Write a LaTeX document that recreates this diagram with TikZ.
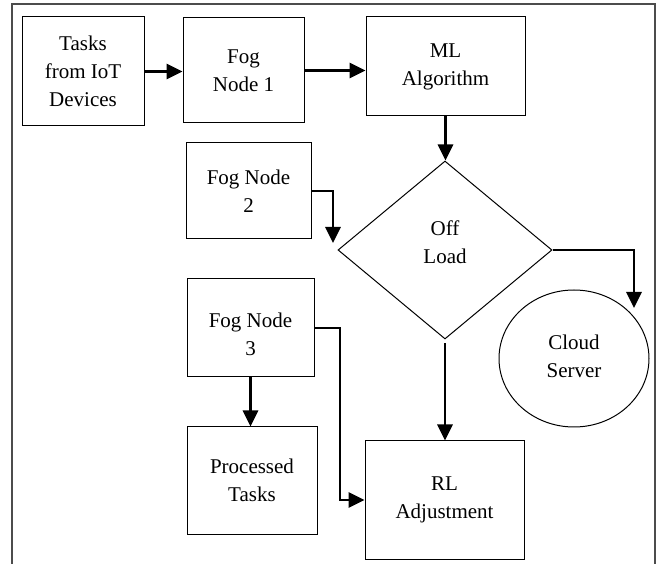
\documentclass[tikz,border=0pt]{standalone}
\usepackage{fontspec}
\setmainfont{Liberation Serif}
\usetikzlibrary{arrows.meta,shapes.geometric}
\begin{document}
\begin{tikzpicture}[x=1pt,y=-1pt,
  every node/.style={font=\fontsize{21}{28}\selectfont, align=center, inner sep=0pt},
  box/.style={draw, line width=1pt, rectangle},
  arr/.style={line width=2.8pt, -{Triangle[length=16pt,width=15pt]}},
  frame/.style={line width=1.6pt, draw=black!70}]
\useasboundingbox (0,0) rectangle (657,564);
\draw[frame] (12,566) -- (12,4) -- (655,4) -- (655,566);
% nodes
\node[box, minimum width=122pt, minimum height=109pt] (tasks) at (83,71.5) {Tasks\\from IoT\\Devices};
\node[box, minimum width=121pt, minimum height=105pt] (fog1) at (243.5,70.5) {Fog\\Node 1};
\node[box, minimum width=159pt, minimum height=99pt] (ml) at (445.5,66.5) {ML\\Algorithm};
\node[box, minimum width=125pt, minimum height=96pt] (fog2) at (248.5,191) {Fog Node\\2};
\node[box, minimum width=127pt, minimum height=98pt] (fog3) at (250.5,328) {};
\node (fog3text) at (250.5,334) {Fog Node\\3};
\node[box, minimum width=130pt, minimum height=107pt] (proc) at (252,480.5) {Processed\\Tasks};
\node[box, minimum width=159pt, minimum height=118pt] (rl) at (444.5,500) {RL\\Adjustment};
\node[draw, line width=1pt, diamond, minimum width=214pt, minimum height=178pt] (off) at (445,250) {};
\node (offtext) at (445,242) {Off\\Load};
\node[draw, line width=1pt, ellipse, minimum width=150pt, minimum height=137pt] (cloud) at (574,358.5) {};
\node (cloudtext) at (574,356.5) {Cloud\\Server};
% helper coordinates
\coordinate (c2) at (333,243);
\coordinate (k3) at (340,500);
\coordinate (cs) at (634,308);
% connectors
\draw[arr] (tasks.east) -- (tasks.east -| fog1.west);
\draw[arr] (fog1.east) -- (fog1.east -| ml.west);
\draw[arr] (ml.south) -- (ml.south |- off.north);
\draw[arr] (fog2.east) -| (c2);
\draw[arr] (off.east) -| (cs);
\draw[arr] (fog3.east) -| (k3) -- (rl.west);
\draw[arr] (fog3.south) -- (fog3.south |- proc.north);
\draw[arr, shorten <=4pt] (off.south) -- (off.south |- rl.north);
\end{tikzpicture}
\end{document}
